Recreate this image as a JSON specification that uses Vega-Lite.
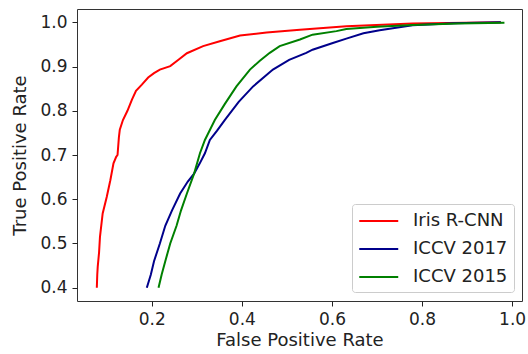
{
  "$schema": "https://vega.github.io/schema/vega-lite/v6.json",
  "width": 445,
  "height": 292,
  "autosize": {"type": "none"},
  "padding": {"left": 77, "top": 9, "right": 6, "bottom": 53},
  "background": "white",
  "config": {
    "font": "DejaVu Sans",
    "view": {"stroke": "#333333", "strokeWidth": 1},
    "axis": {
      "domain": false,
      "grid": false,
      "tickColor": "#222222",
      "tickSize": 5,
      "labelFontSize": 17,
      "labelColor": "#222222",
      "labelFont": "DejaVu Sans",
      "titleFont": "DejaVu Sans",
      "titleFontSize": 18,
      "titleFontWeight": "normal",
      "titleColor": "#222222"
    }
  },
  "data": {
    "values": [
      {"model": "Iris R-CNN", "fpr": 0.078, "tpr": 0.400},
      {"model": "Iris R-CNN", "fpr": 0.079, "tpr": 0.430},
      {"model": "Iris R-CNN", "fpr": 0.080, "tpr": 0.447},
      {"model": "Iris R-CNN", "fpr": 0.083, "tpr": 0.480},
      {"model": "Iris R-CNN", "fpr": 0.085, "tpr": 0.515},
      {"model": "Iris R-CNN", "fpr": 0.091, "tpr": 0.568},
      {"model": "Iris R-CNN", "fpr": 0.100, "tpr": 0.605},
      {"model": "Iris R-CNN", "fpr": 0.108, "tpr": 0.643},
      {"model": "Iris R-CNN", "fpr": 0.115, "tpr": 0.681},
      {"model": "Iris R-CNN", "fpr": 0.121, "tpr": 0.696},
      {"model": "Iris R-CNN", "fpr": 0.124, "tpr": 0.700},
      {"model": "Iris R-CNN", "fpr": 0.127, "tpr": 0.740},
      {"model": "Iris R-CNN", "fpr": 0.129, "tpr": 0.757},
      {"model": "Iris R-CNN", "fpr": 0.136, "tpr": 0.779},
      {"model": "Iris R-CNN", "fpr": 0.146, "tpr": 0.800},
      {"model": "Iris R-CNN", "fpr": 0.156, "tpr": 0.825},
      {"model": "Iris R-CNN", "fpr": 0.165, "tpr": 0.845},
      {"model": "Iris R-CNN", "fpr": 0.178, "tpr": 0.859},
      {"model": "Iris R-CNN", "fpr": 0.192, "tpr": 0.875},
      {"model": "Iris R-CNN", "fpr": 0.205, "tpr": 0.885},
      {"model": "Iris R-CNN", "fpr": 0.218, "tpr": 0.893},
      {"model": "Iris R-CNN", "fpr": 0.241, "tpr": 0.901},
      {"model": "Iris R-CNN", "fpr": 0.260, "tpr": 0.916},
      {"model": "Iris R-CNN", "fpr": 0.278, "tpr": 0.930},
      {"model": "Iris R-CNN", "fpr": 0.314, "tpr": 0.946},
      {"model": "Iris R-CNN", "fpr": 0.351, "tpr": 0.957},
      {"model": "Iris R-CNN", "fpr": 0.396, "tpr": 0.970},
      {"model": "Iris R-CNN", "fpr": 0.455, "tpr": 0.977},
      {"model": "Iris R-CNN", "fpr": 0.529, "tpr": 0.983},
      {"model": "Iris R-CNN", "fpr": 0.632, "tpr": 0.991},
      {"model": "Iris R-CNN", "fpr": 0.779, "tpr": 0.997},
      {"model": "Iris R-CNN", "fpr": 0.975, "tpr": 1.000},
      {"model": "ICCV 2017", "fpr": 0.189, "tpr": 0.400},
      {"model": "ICCV 2017", "fpr": 0.198, "tpr": 0.430},
      {"model": "ICCV 2017", "fpr": 0.205, "tpr": 0.460},
      {"model": "ICCV 2017", "fpr": 0.218, "tpr": 0.500},
      {"model": "ICCV 2017", "fpr": 0.230, "tpr": 0.540},
      {"model": "ICCV 2017", "fpr": 0.245, "tpr": 0.575},
      {"model": "ICCV 2017", "fpr": 0.263, "tpr": 0.613},
      {"model": "ICCV 2017", "fpr": 0.280, "tpr": 0.640},
      {"model": "ICCV 2017", "fpr": 0.294, "tpr": 0.658},
      {"model": "ICCV 2017", "fpr": 0.306, "tpr": 0.680},
      {"model": "ICCV 2017", "fpr": 0.318, "tpr": 0.704},
      {"model": "ICCV 2017", "fpr": 0.329, "tpr": 0.734},
      {"model": "ICCV 2017", "fpr": 0.345, "tpr": 0.755},
      {"model": "ICCV 2017", "fpr": 0.362, "tpr": 0.779},
      {"model": "ICCV 2017", "fpr": 0.393, "tpr": 0.820},
      {"model": "ICCV 2017", "fpr": 0.425, "tpr": 0.855},
      {"model": "ICCV 2017", "fpr": 0.469, "tpr": 0.893},
      {"model": "ICCV 2017", "fpr": 0.505, "tpr": 0.915},
      {"model": "ICCV 2017", "fpr": 0.543, "tpr": 0.931},
      {"model": "ICCV 2017", "fpr": 0.557, "tpr": 0.938},
      {"model": "ICCV 2017", "fpr": 0.602, "tpr": 0.953},
      {"model": "ICCV 2017", "fpr": 0.632, "tpr": 0.963},
      {"model": "ICCV 2017", "fpr": 0.670, "tpr": 0.975},
      {"model": "ICCV 2017", "fpr": 0.706, "tpr": 0.982},
      {"model": "ICCV 2017", "fpr": 0.779, "tpr": 0.993},
      {"model": "ICCV 2017", "fpr": 0.870, "tpr": 0.998},
      {"model": "ICCV 2017", "fpr": 0.975, "tpr": 1.000},
      {"model": "ICCV 2015", "fpr": 0.215, "tpr": 0.400},
      {"model": "ICCV 2015", "fpr": 0.222, "tpr": 0.430},
      {"model": "ICCV 2015", "fpr": 0.230, "tpr": 0.460},
      {"model": "ICCV 2015", "fpr": 0.241, "tpr": 0.500},
      {"model": "ICCV 2015", "fpr": 0.255, "tpr": 0.540},
      {"model": "ICCV 2015", "fpr": 0.265, "tpr": 0.575},
      {"model": "ICCV 2015", "fpr": 0.278, "tpr": 0.613},
      {"model": "ICCV 2015", "fpr": 0.294, "tpr": 0.658},
      {"model": "ICCV 2015", "fpr": 0.307, "tpr": 0.704},
      {"model": "ICCV 2015", "fpr": 0.318, "tpr": 0.734},
      {"model": "ICCV 2015", "fpr": 0.340, "tpr": 0.779},
      {"model": "ICCV 2015", "fpr": 0.362, "tpr": 0.815},
      {"model": "ICCV 2015", "fpr": 0.388, "tpr": 0.855},
      {"model": "ICCV 2015", "fpr": 0.418, "tpr": 0.893},
      {"model": "ICCV 2015", "fpr": 0.440, "tpr": 0.913},
      {"model": "ICCV 2015", "fpr": 0.462, "tpr": 0.931},
      {"model": "ICCV 2015", "fpr": 0.484, "tpr": 0.946},
      {"model": "ICCV 2015", "fpr": 0.529, "tpr": 0.961},
      {"model": "ICCV 2015", "fpr": 0.557, "tpr": 0.972},
      {"model": "ICCV 2015", "fpr": 0.610, "tpr": 0.980},
      {"model": "ICCV 2015", "fpr": 0.632, "tpr": 0.985},
      {"model": "ICCV 2015", "fpr": 0.700, "tpr": 0.990},
      {"model": "ICCV 2015", "fpr": 0.779, "tpr": 0.994},
      {"model": "ICCV 2015", "fpr": 0.880, "tpr": 0.997},
      {"model": "ICCV 2015", "fpr": 0.983, "tpr": 0.999}
    ]
  },
  "mark": {"type": "line", "strokeWidth": 2, "clip": true},
  "encoding": {
    "x": {
      "field": "fpr",
      "type": "quantitative",
      "scale": {"domain": [0.034, 1.022], "nice": false, "zero": false},
      "axis": {
        "title": "False Positive Rate",
        "values": [0.2, 0.4, 0.6, 0.8, 1.0],
        "format": ".1f",
        "labelPadding": 5,
        "titlePadding": 4
      }
    },
    "y": {
      "field": "tpr",
      "type": "quantitative",
      "scale": {"domain": [0.37, 1.03], "nice": false, "zero": false},
      "axis": {
        "title": "True Positive Rate",
        "values": [0.4, 0.5, 0.6, 0.7, 0.8, 0.9, 1.0],
        "format": ".1f",
        "labelPadding": 5,
        "titlePadding": 10
      }
    },
    "color": {
      "field": "model",
      "type": "nominal",
      "scale": {
        "domain": ["Iris R-CNN", "ICCV 2017", "ICCV 2015"],
        "range": ["#ff0000", "#00008b", "#008000"]
      },
      "legend": {
        "title": null,
        "orient": "none",
        "legendX": 275,
        "legendY": 195,
        "symbolType": "M-1,0H3",
        "symbolSize": 380,
        "symbolStrokeWidth": 2,
        "symbolFillColor": "transparent",
        "labelFontSize": 18,
        "labelFont": "DejaVu Sans",
        "labelColor": "#222222",
        "labelOffset": 33,
        "rowPadding": 8,
        "padding": 6,
        "fillColor": "white",
        "strokeColor": "#cccccc",
        "cornerRadius": 3
      }
    }
  }
}
